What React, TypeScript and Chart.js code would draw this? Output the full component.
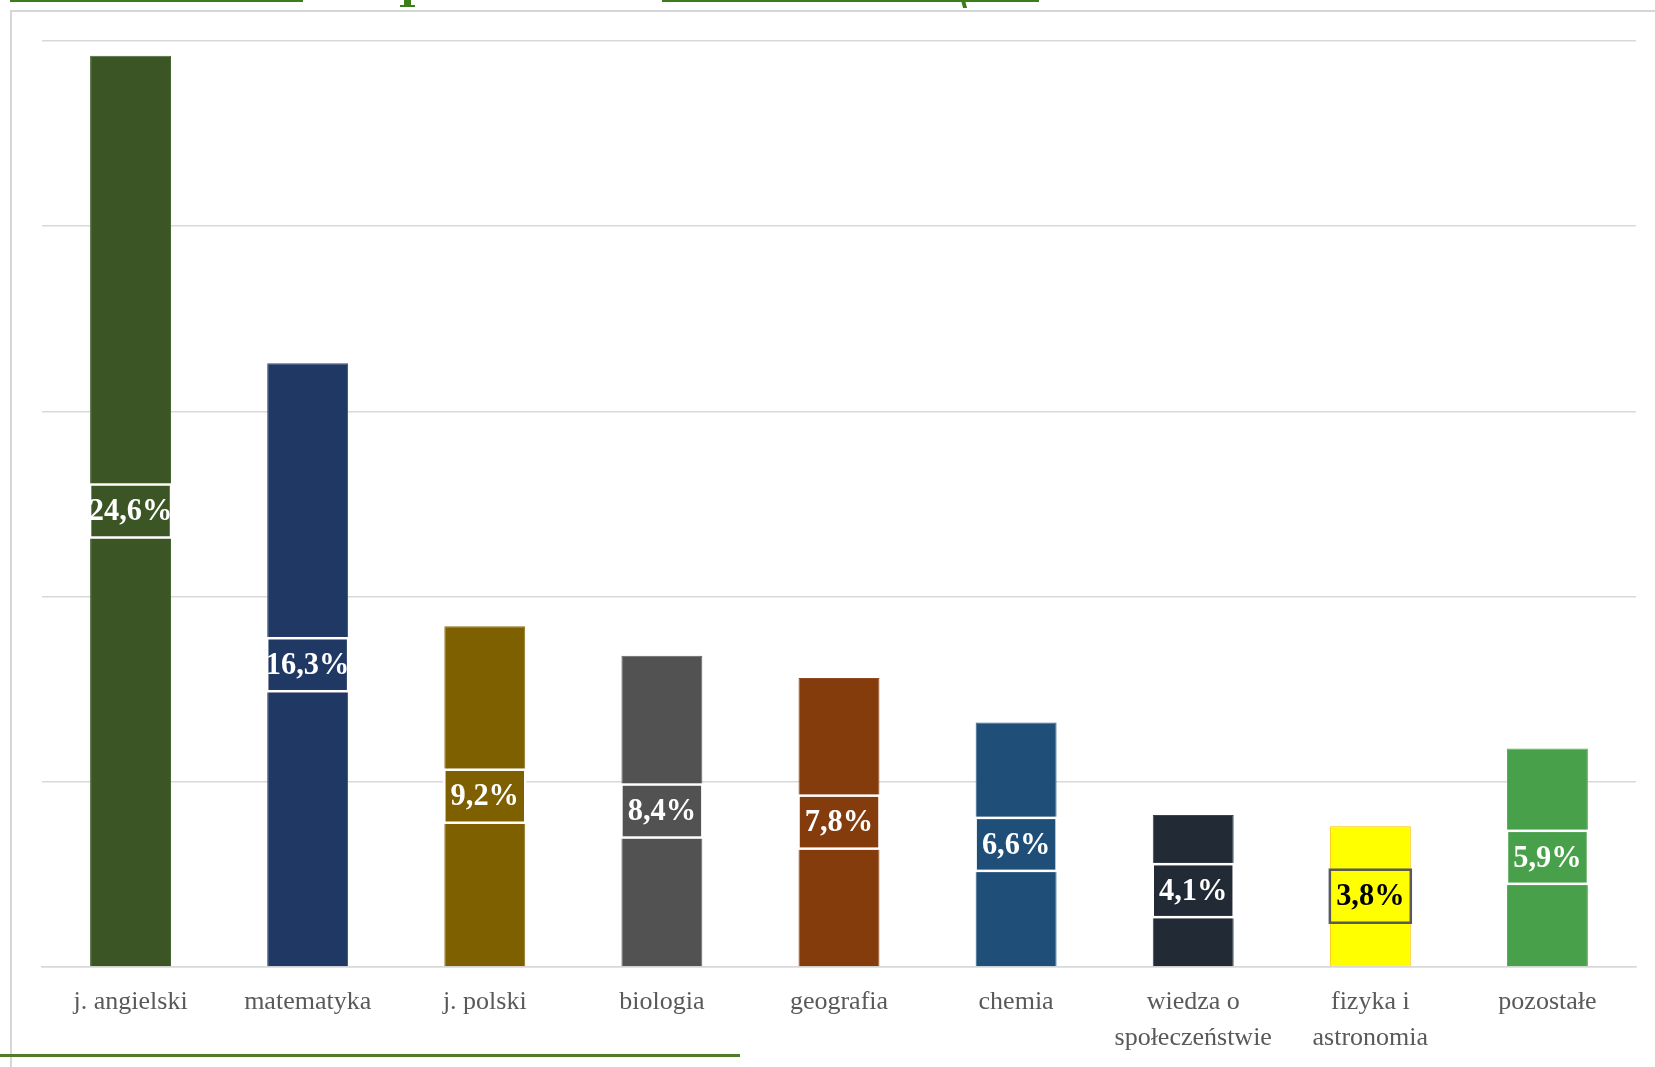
import React, { useEffect, useRef } from "react";
import { Chart, registerables } from "chart.js";

Chart.register(...registerables);

const categories: (string | string[])[] = [
  "j. angielski",
  "matematyka",
  "j. polski",
  "biologia",
  "geografia",
  "chemia",
  ["wiedza o", "społeczeństwie"],
  ["fizyka i", "astronomia"],
  "pozostałe",
];
const values = [24.6, 16.3, 9.2, 8.4, 7.8, 6.6, 4.1, 3.8, 5.9];
const barColors = [
  "#3B5624",
  "#203864",
  "#7F6000",
  "#525252",
  "#843C0C",
  "#1F4E79",
  "#222A35",
  "#FFFF00",
  "#48A04B",
];
const barBorders = [
  "#4a6535",
  "#34497a",
  "#8a6c1a",
  "#626262",
  "#904a1e",
  "#32608a",
  "#3a4250",
  "#FFC000",
  "#5aae5d",
];
const labelTextColors = ["#fff", "#fff", "#fff", "#fff", "#fff", "#fff", "#fff", "#000", "#fff"];
const labelBoxBorders = ["#fff", "#fff", "#fff", "#fff", "#fff", "#fff", "#fff", "#595959", "#fff"];
const yTicks = [0, 5, 10, 15, 20, 25];

const fmt = (v: number) => v.toFixed(1).replace(".", ",") + "%";

const boxLabels = {
  id: "boxLabels",
  afterDatasetsDraw(chart: any) {
    const ctx = chart.ctx as CanvasRenderingContext2D;
    const meta = chart.getDatasetMeta(0);
    meta.data.forEach((el: any, i: number) => {
      const { x, y, base, width } = el.getProps(["x", "y", "base", "width"], true);
      const cy = (y + base) / 2;
      const txt = fmt(values[i]);
      ctx.save();
      ctx.font = 'bold 32px "Liberation Serif"';
      const sx = 0.95;
      const tw = ctx.measureText(txt).width * sx;
      const bw = Math.min(width, tw + 14);
      const bh = 53;
      ctx.fillStyle = barColors[i];
      ctx.fillRect(x - bw / 2, cy - bh / 2, bw, bh);
      ctx.lineWidth = 2.5;
      ctx.strokeStyle = labelBoxBorders[i];
      ctx.strokeRect(x - bw / 2, cy - bh / 2, bw, bh);
      ctx.translate(x, cy + 1);
      ctx.scale(sx, 1);
      ctx.fillStyle = labelTextColors[i];
      ctx.textAlign = "center";
      ctx.textBaseline = "middle";
      ctx.fillText(txt, 0, 0);
      ctx.restore();
    });
  },
};

export default function App() {
  const ref = useRef<HTMLCanvasElement | null>(null);
  useEffect(() => {
    if (!ref.current) return;
    const chart = new Chart(ref.current, {
      type: "bar",
      data: {
        labels: categories,
        datasets: [
          {
            data: values,
            backgroundColor: barColors,
            borderColor: barBorders,
            borderWidth: 1,
            categoryPercentage: 1,
            barPercentage: 0.457,
          },
        ],
      },
      options: {
        animation: false,
        responsive: true,
        maintainAspectRatio: false,
        layout: { padding: { left: 42, right: 19, top: 41, bottom: 12 } },
        plugins: { legend: { display: false }, tooltip: { enabled: false } },
        scales: {
          x: {
            grid: { display: false, drawTicks: false },
            border: { display: true, color: "#d9d9d9", width: 1.5 },
            ticks: {
              color: "#595959",
              padding: 17,
              maxRotation: 0,
              autoSkip: false,
              font: { family: '"Liberation Serif"', size: 26, lineHeight: 1.385 },
            },
          },
          y: {
            min: 0,
            max: 25,
            afterBuildTicks: (axis: any) => {
              axis.ticks = yTicks.map((v) => ({ value: v }));
            },
            grid: { color: "#d9d9d9", lineWidth: 1.5, drawTicks: false },
            border: { display: false },
            ticks: { display: false },
          },
        },
      },
      plugins: [boxLabels],
    });
    return () => chart.destroy();
  }, []);

  return (
    <div
      style={{
        position: "fixed",
        left: 0,
        top: 0,
        width: 1655,
        height: 1067,
        overflow: "hidden",
        background: "#ffffff",
      }}
    >
      <div
        style={{
          position: "absolute",
          left: 10,
          top: 10,
          width: 1700,
          height: 1100,
          border: "2px solid #d6d6d6",
        }}
      />
      <div style={{ position: "absolute", left: 10, top: 0, width: 293, height: 2, background: "#3A7D1A" }} />
      <div style={{ position: "absolute", left: 662, top: 0, width: 377, height: 2, background: "#3A7D1A" }} />
      <div style={{ position: "absolute", left: 404, top: 0, width: 7, height: 7, background: "#3A7D1A" }} />
      <div style={{ position: "absolute", left: 400, top: 5, width: 15, height: 2, background: "#3A7D1A" }} />
      <div
        style={{
          position: "absolute",
          left: 962,
          top: 0,
          width: 4,
          height: 8,
          background: "#3A7D1A",
          transform: "skewX(15deg)",
        }}
      />
      <div style={{ position: "absolute", left: 0, top: 1054, width: 740, height: 2.5, background: "#4F7B2A" }} />
      <div style={{ position: "absolute", left: 0, top: 0, width: 1655, height: 1085 }}>
        <canvas ref={ref} />
      </div>
    </div>
  );
}
